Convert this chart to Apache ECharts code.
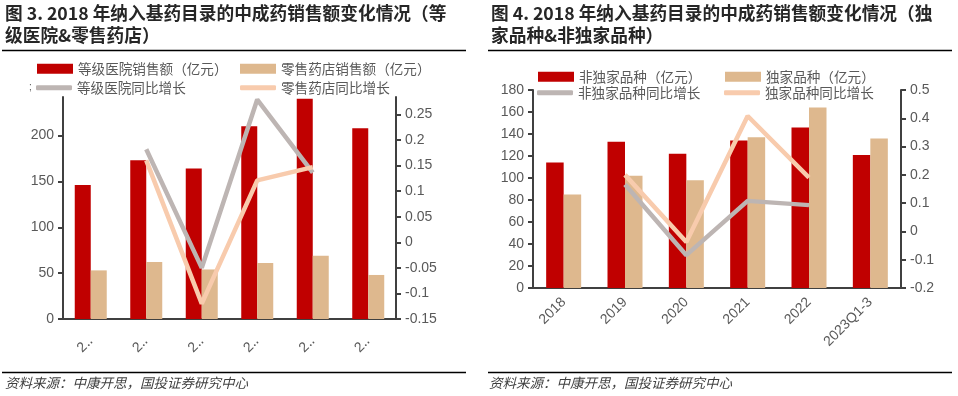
<!DOCTYPE html>
<html>
<head>
<meta charset="utf-8">
<script src="https://cdn.jsdelivr.net/npm/echarts@6/dist/echarts.min.js"></script>
<style>
  html,body{margin:0;padding:0;background:#fff;}
  #chart{width:958px;height:396px;}
</style>
</head>
<body>
<div id="chart"></div>
<script>
// 图3 数据
var years = ['2018','2019','2020','2021','2022','2023Q1-3']
var hospSales = [146, 173, 164, 210, 240, 208]
var pharmSales = [53, 62, 54, 61, 69, 48]
var hospGrowth = ['-', 0.182, -0.05, 0.279, 0.136, '-']
var pharmGrowth = ['-', 0.16, -0.12, 0.121, 0.147, '-']
var leftTicks = [0, 50, 100, 150, 200]
var rightTicks = [-0.15, -0.1, -0.05, 0, 0.05, 0.1, 0.15, 0.2, 0.25]

// 图4 数据
var nonExclusive = [114, 133, 122, 134, 146, 121]
var exclusive = [85, 102, 98, 137, 164, 136]
var nonExclGrowth = ['-', 0.166, -0.084, 0.108, 0.093, '-']
var exclGrowth = ['-', 0.2, -0.037, 0.408, 0.19, '-']

var red = '#C00000'
var tan = '#DEB88E'
var gray = '#BDB5B3'
var peach = '#F8CBAD'
var axisColor = '#404040'
var labelColor = '#595959'
var font = 'Liberation Sans, Arial, sans-serif'
var cjk = 'Noto Sans CJK SC'

let chart = echarts.init(document.getElementById('chart'))

function legendItem(name, left, top, isLine){
  return {
    data: [name],
    left: left,
    top: top,
    padding: 0,
    itemWidth: 36,
    itemHeight: isLine ? 5 : 10,
    icon: isLine ? 'roundRect' : 'rect',
    textStyle: {color: labelColor, fontSize: 13.6, fontFamily: cjk}
  }
}

function yAxisStyle(grid, pos, min, max, ticks){
  return {
    type: 'value',
    gridIndex: grid,
    position: pos,
    min: min,
    max: max,
    axisLine: {show: true, lineStyle: {color: axisColor, width: 2}},
    axisTick: {show: true, length: 5, lineStyle: {color: axisColor, width: 2}, customValues: ticks},
    axisLabel: {color: labelColor, fontSize: 14, fontFamily: font, margin: 9, customValues: ticks},
    splitLine: {show: false}
  }
}

function xAxisStyle(grid, labelOpt){
  return {
    type: 'category',
    gridIndex: grid,
    data: years,
    axisLine: {lineStyle: {color: axisColor, width: 2}},
    axisTick: {length: 5, lineStyle: {color: axisColor, width: 2}},
    axisLabel: labelOpt
  }
}

function titleText(x, y, txt){
  return {type: 'text', x: x, y: y, style: {text: txt, fill: '#262626', font: 'bold 17.7px ' + cjk, verticalAlign: 'middle'}}
}
function rule(x1, x2, y){
  return {type: 'line', shape: {x1: x1, y1: y, x2: x2, y2: y}, style: {stroke: '#000', lineWidth: 1.5}}
}
function source(x){
  return {type: 'text', x: x, y: 383, style: {text: '资料来源：中康开思，国投证券研究中心', fill: '#404040', font: 'italic 13.5px ' + cjk, verticalAlign: 'middle'}}
}

chart.setOption({
  animation: false,
  graphic: [
    titleText(5, 13, '图 3. 2018 年纳入基药目录的中成药销售额变化情况（等'),
    titleText(5, 35, '级医院&零售药店）'),
    titleText(491, 13, '图 4. 2018 年纳入基药目录的中成药销售额变化情况（独'),
    titleText(491, 35, '家品种&非独家品种）'),
    rule(2, 466, 50.5),
    rule(488, 952, 50.5),
    rule(2, 466, 372.5),
    rule(488, 952, 372.5),
    source(5),
    source(489),
    {type: 'text', x: 29, y: 87, style: {text: ';', fill: labelColor, font: '10px ' + font, verticalAlign: 'middle'}}
  ],
  legend: [
    legendItem('等级医院销售额（亿元）', 37, 62, false),
    legendItem('零售药店销售额（亿元）', 240, 62, false),
    legendItem('等级医院同比增长', 36, 81, true),
    legendItem('零售药店同比增长', 240, 81, true),
    legendItem('非独家品种（亿元）', 538, 70, false),
    legendItem('独家品种（亿元）', 725, 70, false),
    legendItem('非独家品种同比增长', 537, 86, true),
    legendItem('独家品种同比增长', 724, 86, true)
  ],
  grid: [
    {left: 63, right: 562, top: 97, bottom: 77},
    {left: 533, right: 57, top: 90, bottom: 108}
  ],
  xAxis: [
    xAxisStyle(0, {color: labelColor, fontSize: 14, fontFamily: font, rotate: 45, margin: 20,
      formatter: function(v){ return v.charAt(0) + '‥' }}),
    xAxisStyle(1, {color: labelColor, fontSize: 14, fontFamily: font, rotate: 45, margin: 12})
  ],
  yAxis: [
    yAxisStyle(0, 'left', 0, 242, leftTicks),
    yAxisStyle(0, 'right', -0.15, 0.284, rightTicks),
    yAxisStyle(1, 'left', 0, 180, [0,20,40,60,80,100,120,140,160,180]),
    yAxisStyle(1, 'right', -0.2, 0.5, [-0.2,-0.1,0,0.1,0.2,0.3,0.4,0.5])
  ],
  series: [
    {name: '等级医院销售额（亿元）', type: 'bar', xAxisIndex: 0, yAxisIndex: 0, data: hospSales,
      barWidth: 16, barGap: '0%', itemStyle: {color: red}},
    {name: '零售药店销售额（亿元）', type: 'bar', xAxisIndex: 0, yAxisIndex: 0, data: pharmSales,
      barWidth: 16, barGap: '0%', itemStyle: {color: tan}},
    {name: '等级医院同比增长', type: 'line', xAxisIndex: 0, yAxisIndex: 1, data: hospGrowth,
      symbol: 'none', lineStyle: {color: gray, width: 4.5}, itemStyle: {color: gray}, z: 3},
    {name: '零售药店同比增长', type: 'line', xAxisIndex: 0, yAxisIndex: 1, data: pharmGrowth,
      symbol: 'none', lineStyle: {color: peach, width: 4.5}, itemStyle: {color: peach}, z: 3},
    {name: '非独家品种（亿元）', type: 'bar', xAxisIndex: 1, yAxisIndex: 2, data: nonExclusive,
      barWidth: 17.5, barGap: '0%', itemStyle: {color: red}},
    {name: '独家品种（亿元）', type: 'bar', xAxisIndex: 1, yAxisIndex: 2, data: exclusive,
      barWidth: 17.5, barGap: '0%', itemStyle: {color: tan}},
    {name: '非独家品种同比增长', type: 'line', xAxisIndex: 1, yAxisIndex: 3, data: nonExclGrowth,
      symbol: 'none', lineStyle: {color: gray, width: 4.5}, itemStyle: {color: gray}, z: 3},
    {name: '独家品种同比增长', type: 'line', xAxisIndex: 1, yAxisIndex: 3, data: exclGrowth,
      symbol: 'none', lineStyle: {color: peach, width: 4.5}, itemStyle: {color: peach}, z: 3}
  ]
})
</script>
</body>
</html>
